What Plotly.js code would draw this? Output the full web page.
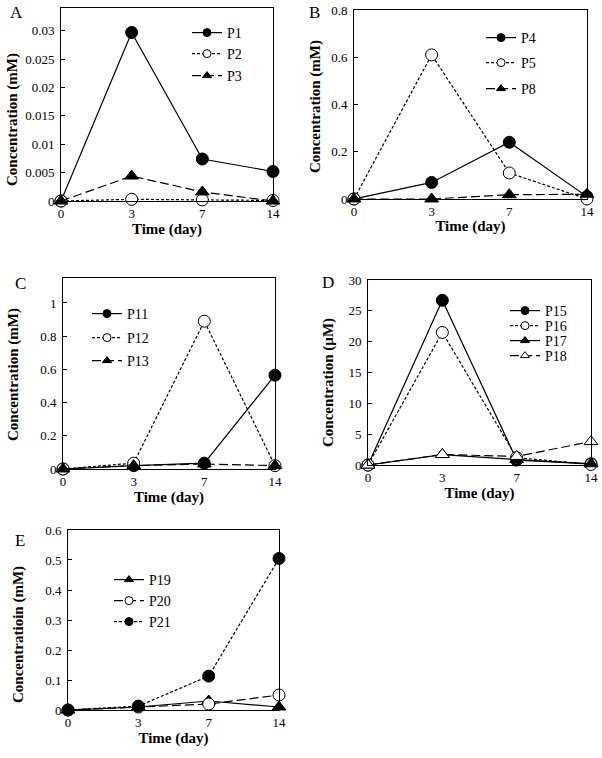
<!DOCTYPE html>
<html><head><meta charset="utf-8">
<script src="https://cdn.plot.ly/plotly-3.0.1.min.js"></script>
<style>body{margin:0;background:#fff}#c{width:602px;height:758px}</style>
</head><body><div id="c"></div>
<script>
const times = ['0','3','7','14'];
// Panel A (mM)
const P1 = [0, 0.0297, 0.0074, 0.0052];
const P2 = [0, 0.0003, 0.0002, 0.0001];
const P3 = [0, 0.0044, 0.0016, 0];
// Panel B (mM)
const P4 = [0, 0.07, 0.24, 0.01];
const P5 = [0, 0.61, 0.11, 0.0];
const P8 = [0, 0.0, 0.018, 0.02];
// Panel C (mM)
const P11 = [0, 0.02, 0.035, 0.565];
const P12 = [0, 0.035, 0.89, 0.02];
const P13 = [0, 0.02, 0.03, 0.02];
// Panel D (µM)
const P15 = [0, 26.7, 0.8, 0.2];
const P16 = [0, 21.5, 1.2, 0.1];
const P17 = [0, 1.7, 0.9, 0.2];
const P18 = [0, 1.7, 1.4, 3.8];
// Panel E (mM)
const P19 = [0, 0.01, 0.03, 0.01];
const P20 = [0, 0.01, 0.02, 0.05];
const P21 = [0, 0.013, 0.113, 0.505];

const FONT = 'Liberation Serif, Times New Roman, serif';
const SOLID = 'solid', SHORT = '3px,2px', LONG = '9px,4px';
const FC = {symbol:'circle', color:'#000', line:{color:'#000', width:1}};
const OC = {symbol:'circle', color:'#fff', line:{color:'#000', width:1}};
const FT = {symbol:'triangle-up', color:'#000', line:{color:'#000', width:1}};
const OT = {symbol:'triangle-up', color:'#fff', line:{color:'#000', width:1}};

const data = [];
let legN = 0;
const legends = {};
function tr(name, y, dash, mk, ax, lx, ly){
  const xa = 'x'+ax, ya = 'y'+ax;
  data.push({x: times, y: y, name: name, type:'scatter', mode:'lines+markers',
    line:{color:'#000', width:1.2, dash:dash},
    marker:Object.assign({size:12}, mk),
    xaxis:xa, yaxis:ya, showlegend:false, cliponaxis:false});
  legN++;
  const key = legN === 1 ? 'legend' : 'legend'+legN;
  // key-only entry: same categories, no plotted values, smaller marker like the reference key
  data.push({x: times, y: times.map(() => null), name: name, type:'scatter', mode:'lines+markers',
    line:{color:'#000', width:1.2, dash:dash},
    marker:Object.assign({size:8}, mk),
    xaxis:xa, yaxis:ya, showlegend:true, legend:key, hoverinfo:'skip'});
  legends[key] = {x:(lx-4)/602, y:1-ly/758, xanchor:'left', yanchor:'middle', bgcolor:'rgba(0,0,0,0)',
    borderwidth:0, font:{family:FONT, size:14, color:'#000'}};
}
tr('P1',P1,SOLID,FC,'',191,33); tr('P2',P2,SHORT,OC,'',191,54); tr('P3',P3,LONG,FT,'',191,76);
tr('P4',P4,SOLID,FC,'2',485,38); tr('P5',P5,SHORT,OC,'2',485,63); tr('P8',P8,LONG,FT,'2',485,89);
tr('P11',P11,SOLID,FC,'3',91,314); tr('P12',P12,SHORT,OC,'3',91,338); tr('P13',P13,LONG,FT,'3',91,361);
tr('P15',P15,SOLID,FC,'4',509,311); tr('P16',P16,SHORT,OC,'4',509,326); tr('P17',P17,SOLID,FT,'4',509,341); tr('P18',P18,LONG,OT,'4',509,356);
tr('P19',P19,SOLID,FT,'5',113,580); tr('P20',P20,LONG,OC,'5',113,601); tr('P21',P21,SHORT,FC,'5',113,622);

function xa(dom, anchor){
  return {domain:dom, anchor:anchor, type:'category', categoryorder:'array', categoryarray:times,
    range:[0,3], showline:true, mirror:true, linecolor:'#000', linewidth:1, showgrid:false, zeroline:false,
    ticks:'', tickfont:{family:FONT, size:13, color:'#000'},
    title:{text:'Time (day)', font:{family:FONT, size:15, color:'#000', weight:'bold'}, standoff:2}};
}
function ya(dom, anchor, range, dtick){
  return {domain:dom, anchor:anchor, range:range, dtick:dtick, tick0:0,
    showline:true, mirror:true, linecolor:'#000', linewidth:1, showgrid:false, zeroline:false,
    ticks:'inside', ticklen:4, tickcolor:'#000', tickfont:{family:FONT, size:13, color:'#000'}, ticklabelstandoff:3};
}
function lab(t, x, y){
  return {text:t, x:x/602, y:1-y/758, xref:'paper', yref:'paper', xanchor:'left', yanchor:'middle', showarrow:false,
    font:{family:FONT, size:17, color:'#000'}};
}
function ytl(t, x, y){
  return {text:'<b>'+t+'</b>', x:x/602, y:1-y/758, xref:'paper', yref:'paper', xanchor:'center', yanchor:'middle',
    textangle:-90, showarrow:false, font:{family:FONT, size:15, color:'#000'}};
}
const layout = Object.assign({
  width:602, height:758, margin:{l:0, r:0, t:0, b:0}, paper_bgcolor:'#fff', plot_bgcolor:'#fff',
  showlegend:true,
  xaxis: xa([0.1013,0.4535],'y'),  yaxis: ya([0.7348,0.9894],'x',[0,0.034],0.005),
  xaxis2: xa([0.588,0.975],'y2'),  yaxis2: ya([0.7375,0.9868],'x2',[0,0.8],0.2),
  xaxis3: xa([0.1047,0.4568],'y3'), yaxis3: ya([0.3813,0.6332],'x3',[0,1.15],0.2),
  xaxis4: xa([0.6113,0.9817],'y4'), yaxis4: ya([0.3865,0.6306],'x4',[0,30],5),
  xaxis5: xa([0.113,0.4635],'y5'), yaxis5: ya([0.0633,0.3008],'x5',[0,0.6],0.1),
  annotations:[lab('A',8,13), lab('B',307,12), lab('C',13,283), lab('D',320,282), lab('E',13,540),
    ytl('Concentration (mM)',12,120), ytl('Concentration (mM)',315,107), ytl('Concentration (mM)',14,375),
    ytl('Concentration (µM)',328,383), ytl('Concentratioin (mM)',18,635)]
}, legends);
Plotly.newPlot('c', data, layout, {staticPlot:true});
</script></body></html>
